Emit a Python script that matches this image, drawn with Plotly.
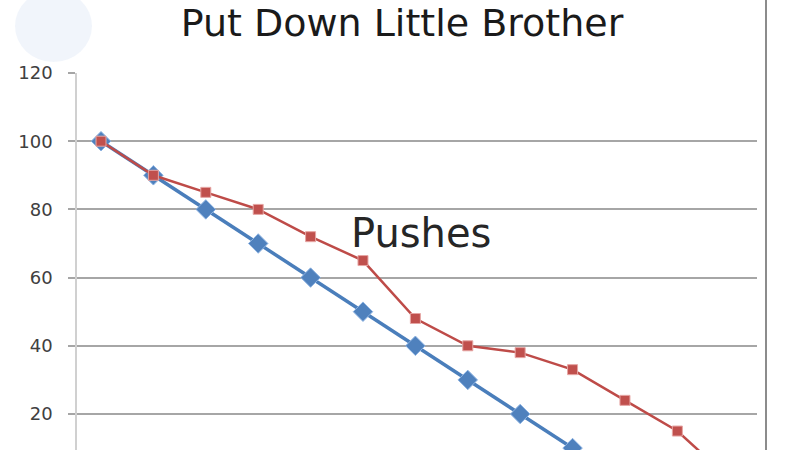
import plotly.graph_objects as go

steps = list(range(13))
blue_values = [100, 90, 80, 70, 60, 50, 40, 30, 20, 10, 0]
red_values = [100, 90, 85, 80, 72, 65, 48, 40, 38, 33, 24, 15, 1]
y_ticks = [0, 20, 40, 60, 80, 100, 120]

title_text = "Put Down Little Brother"
label_text = "Pushes"

fig = go.Figure()
fig.add_trace(go.Scatter(
    x=steps[:len(blue_values)], y=blue_values, mode="lines+markers",
    line=dict(color="#4A7EBB", width=3.5),
    marker=dict(symbol="diamond", size=15, color="#4F81BD",
                line=dict(color="#8DB3E2", width=1)),
    showlegend=False,
))
fig.add_trace(go.Scatter(
    x=steps[:len(red_values)], y=red_values, mode="lines+markers",
    line=dict(color="#BE4B48", width=2.5),
    marker=dict(symbol="square", size=10, color="#C0504D",
                line=dict(color="#E6A5A3", width=1)),
    showlegend=False,
))

fig.add_annotation(x=6.1, y=73, xref="x", yref="y", text=label_text,
                   showarrow=False, font=dict(family="DejaVu Sans", size=40, color="#262626"))

# plot area: page x 77..757, y 73..450
fig.add_shape(type="circle", xref="paper", yref="paper",
              x0=(15-77)/680, x1=(92-77)/680, y0=(450-62)/377, y1=(450-(-10))/377,
              fillcolor="rgba(238,243,250,0.8)", line=dict(width=0), layer="below")
fig.add_shape(type="line", xref="paper", yref="paper",
              x0=(766-77)/680, x1=(766-77)/680, y0=0, y1=450/377,
              line=dict(color="#8C8C8C", width=2))

fig.update_layout(
    width=800, height=450,
    margin=dict(l=77, r=43, t=73, b=0),
    paper_bgcolor="white", plot_bgcolor="white",
    title=dict(text=title_text, x=402/800, xanchor="center", y=1-23/450, yanchor="middle",
               font=dict(family="DejaVu Sans", size=38, color="#1a1a1a")),
    xaxis=dict(range=[-0.458, 12.52], showticklabels=False, showgrid=False,
               zeroline=False, showline=False, ticks=""),
    yaxis=dict(range=[9.44, 120], tickvals=y_ticks, showgrid=True,
               gridcolor="#A6A6A6", gridwidth=1.5, zeroline=False,
               showline=True, linecolor="#D0D0D0", linewidth=1.5,
               ticks="outside", ticklen=7, tickcolor="#A6A6A6", tickwidth=1.5,
               ticklabelstandoff=12,
               tickfont=dict(family="DejaVu Sans", size=18, color="#404040")),
)

fig.write_html("out.html", config={"displayModeBar": False},
               post_script="document.body.style.margin='0';")
